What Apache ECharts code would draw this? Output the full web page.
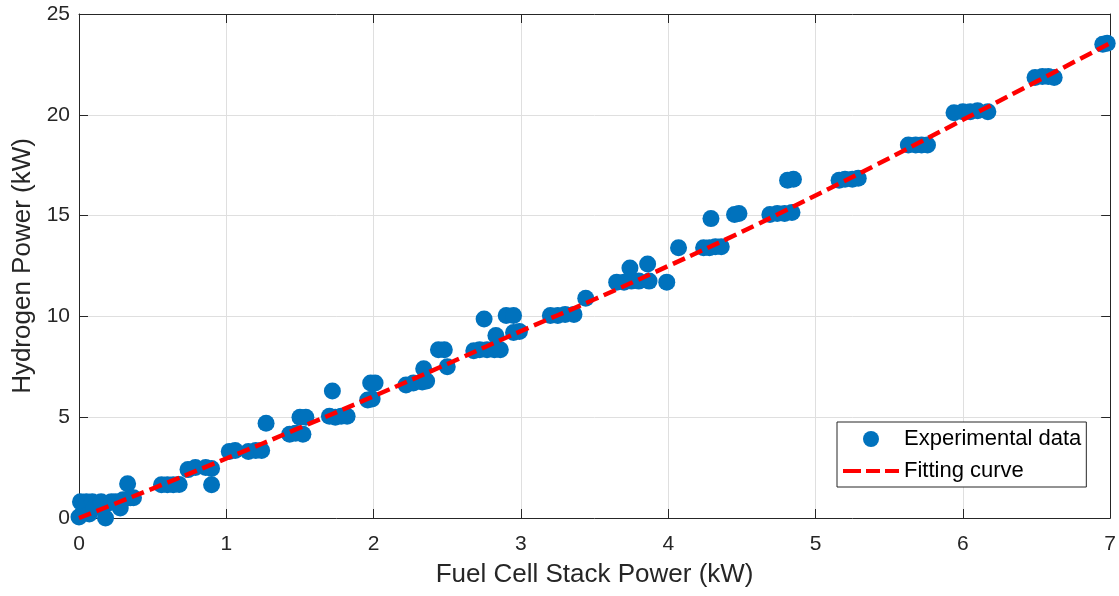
<!DOCTYPE html>
<html>
<head>
<meta charset="utf-8">
<script src="https://cdn.jsdelivr.net/npm/echarts@6/dist/echarts.min.js"></script>
<style>html,body{margin:0;padding:0;background:#fff}#c{width:1119px;height:596px}</style>
</head>
<body>
<div id="c"></div>
<script>
// Experimental data: fuel cell stack power (kW) and hydrogen power (kW)
const expX = [0.00,0.01,0.03,0.05,0.07,0.09,0.10,0.15,0.18,0.20,0.22,0.25,0.28,0.30,0.33,0.35,0.37,
  0.56,0.60,0.64,0.68,0.74,0.79,0.86,0.90,0.90,
  1.02,1.06,1.15,1.20,1.24,1.27,
  1.43,1.47,1.52,1.50,1.54,1.70,1.74,1.78,1.82,1.72,
  1.96,1.99,1.98,2.01,2.22,2.27,2.33,2.36,2.34,2.44,2.48,2.50,
  2.68,2.72,2.77,2.82,2.86,2.75,2.83,2.90,2.95,2.95,2.99,
  3.20,3.25,3.30,3.36,3.44,
  3.65,3.70,3.75,3.80,3.87,3.74,3.86,3.99,4.07,
  4.24,4.28,4.32,4.36,4.29,4.45,4.48,4.69,4.74,4.79,4.84,4.81,4.85,
  5.16,5.20,5.25,5.29,5.63,5.68,5.72,5.76,
  5.94,6.00,6.05,6.10,6.17,6.49,6.54,6.58,6.62,6.95,6.98];
const expY = [0.05,0.80,0.30,0.80,0.20,0.80,0.50,0.80,0.00,0.75,0.80,0.80,0.50,0.90,1.70,1.00,1.00,
  1.65,1.65,1.65,1.66,2.40,2.50,2.50,2.45,1.65,
  3.30,3.35,3.30,3.35,3.35,4.70,
  4.15,4.20,4.15,5.00,5.00,5.05,5.00,5.05,5.05,6.30,
  5.85,5.90,6.70,6.70,6.60,6.70,6.75,6.80,7.40,8.35,8.35,7.50,
  8.30,8.35,8.35,8.35,8.35,9.87,9.05,10.05,10.05,9.20,9.25,
  10.05,10.05,10.10,10.10,10.90,
  11.70,11.70,11.75,11.75,11.75,12.40,12.60,11.70,13.40,
  13.40,13.40,13.45,13.45,14.85,15.05,15.10,15.05,15.10,15.10,15.15,16.75,16.80,
  16.75,16.80,16.80,16.85,18.50,18.50,18.50,18.50,
  20.10,20.15,20.15,20.20,20.15,21.85,21.90,21.90,21.85,23.50,23.55];
// Fitting curve
const fitX = [0,0.5,1,1.5,2,2.5,3,3.5,4,4.5,5,5.5,6,6.5,7];
const fitY = [0,1.46,2.95,4.48,6.04,7.64,9.27,10.85,12.5,14.2,16.0,17.85,19.75,21.65,23.55];
const xTicks = [0,1,2,3,4,5,6,7];
const yTicks = [0,5,10,15,20,25];
const xTitle = 'Fuel Cell Stack Power (kW)';
const yTitle = 'Hydrogen Power (kW)';
const seriesNames = ['Experimental data','Fitting curve'];

const axisColor = '#262626';
const font = 'Liberation Sans, Arial, Helvetica, sans-serif';
const chart = echarts.init(document.getElementById('c'));
const baseX = {type:'value', min:xTicks[0], max:xTicks[xTicks.length-1], interval:1};
const baseY = {type:'value', min:yTicks[0], max:yTicks[yTicks.length-1], interval:5};
chart.setOption({
  animation:false,
  backgroundColor:'#fff',
  grid:{left:79, right:6, top:14, bottom:78, containLabel:false},
  xAxis:[
    Object.assign({}, baseX, {position:'bottom',
      name:xTitle, nameLocation:'middle', nameGap:44,
      nameTextStyle:{fontSize:26, color:axisColor, fontFamily:font},
      axisLine:{show:true, onZero:false, lineStyle:{color:axisColor, width:1}},
      axisTick:{show:true, inside:true, length:9, lineStyle:{color:axisColor}},
      axisLabel:{fontSize:21, color:axisColor, fontFamily:font, margin:16,
        formatter:v=>xTicks.includes(v)?String(v):''},
      splitLine:{show:true, lineStyle:{color:'#dfdfdf', width:1}}}),
    Object.assign({}, baseX, {position:'top',
      axisLine:{show:true, onZero:false, lineStyle:{color:axisColor, width:1}},
      axisTick:{show:true, inside:true, length:9, lineStyle:{color:axisColor}},
      axisLabel:{show:false}, splitLine:{show:false}})
  ],
  yAxis:[
    Object.assign({}, baseY, {position:'left',
      name:yTitle, nameLocation:'middle', nameGap:41,
      nameTextStyle:{fontSize:26, color:axisColor, fontFamily:font},
      axisLine:{show:true, onZero:false, lineStyle:{color:axisColor, width:1}},
      axisTick:{show:true, inside:true, length:9, lineStyle:{color:axisColor}},
      axisLabel:{fontSize:21, color:axisColor, fontFamily:font, margin:9,
        formatter:v=>yTicks.includes(v)?String(v):''},
      splitLine:{show:true, lineStyle:{color:'#dfdfdf', width:1}}}),
    Object.assign({}, baseY, {position:'right',
      axisLine:{show:true, onZero:false, lineStyle:{color:axisColor, width:1}},
      axisTick:{show:true, inside:true, length:9, lineStyle:{color:axisColor}},
      axisLabel:{show:false}, splitLine:{show:false}})
  ],
  legend:{
    orient:'vertical', left:837, top:422,
    padding:[6,5,5,6], itemWidth:56, itemHeight:16, itemGap:10,
    borderColor:axisColor, borderWidth:1, borderRadius:0, backgroundColor:'#fff',
    textStyle:{fontSize:22, color:'#000', fontFamily:font},
    data:[
      {name:seriesNames[0], icon:'circle'},
      {name:seriesNames[1], icon:'path://M0,6h18v4h-18z M23,6h14v4h-14z M42,6h14v4h-14z'}
    ]
  },
  series:[
    {name:seriesNames[0], type:'scatter', xAxisIndex:0, yAxisIndex:0, clip:false,
      symbol:'circle', symbolSize:17, itemStyle:{color:'#0072BD', opacity:1},
      data:expX.map((x,i)=>[x, expY[i]]), z:2},
    {name:seriesNames[1], type:'line', xAxisIndex:0, yAxisIndex:0, clip:false,
      symbol:'none', smooth:true,
      lineStyle:{color:'#FF0000', width:4.5, type:[13,6]},
      itemStyle:{color:'#FF0000'},
      data:fitX.map((x,i)=>[x, fitY[i]]), z:3}
  ]
});
</script>
</body>
</html>
